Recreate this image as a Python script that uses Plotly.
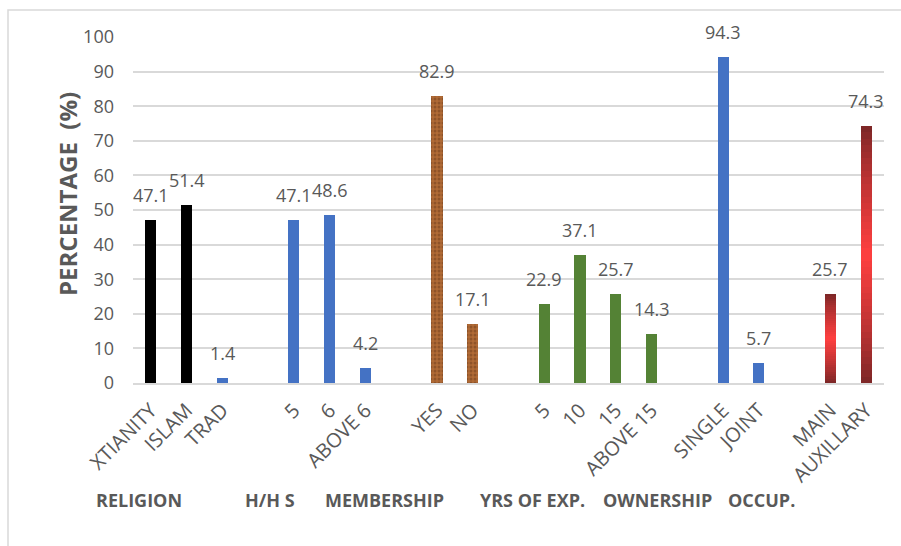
import plotly.graph_objects as go

# ---------------- data ----------------
groups = ["RELIGION", "H/H S", "MEMBERSHIP", "YRS OF EXP.", "OWNERSHIP", "OCCUP."]

religion_labels = ["XTIANITY", "ISLAM", "TRAD"]
religion_values = [47.1, 51.4, 1.4]

hhs_labels = ["5", "6", "ABOVE 6"]
hhs_values = [47.1, 48.6, 4.2]

membership_labels = ["YES", "NO"]
membership_values = [82.9, 17.1]

experience_labels = ["5", "10", "15", "ABOVE 15"]
experience_values = [22.9, 37.1, 25.7, 14.3]

ownership_labels = ["SINGLE", "JOINT"]
ownership_values = [94.3, 5.7]

occupation_labels = ["MAIN", "AUXILLARY"]
occupation_values = [25.7, 74.3]

y_ticks = [0, 10, 20, 30, 40, 50, 60, 70, 80, 90, 100]

# ---------------- styles ----------------
BLUE = "#4472C4"
GREEN = "#548235"
BLACK = "#000000"
TEXT = "#595959"
GRID = "#D9D9D9"
FONT = "Open Sans"
BAR_W = 0.31

group_data = [
    (religion_labels, religion_values, [BLACK, BLACK, BLUE], "solid"),
    (hhs_labels, hhs_values, [BLUE] * 3, "solid"),
    (membership_labels, membership_values, None, "texture"),
    (experience_labels, experience_values, [GREEN] * 4, "solid"),
    (ownership_labels, ownership_values, [BLUE] * 2, "solid"),
    (occupation_labels, occupation_values, None, "gradient"),
]

fig = go.Figure()

tick_vals, tick_text = [], []
pos = 0
all_x, all_y = [], []
for labels, values, colors, kind in group_data:
    xs = list(range(pos, pos + len(labels)))
    tick_vals += xs
    tick_text += labels
    all_x += xs
    all_y += values
    if kind == "solid":
        fig.add_trace(go.Bar(x=xs, y=values, width=BAR_W, marker=dict(color=colors, line_width=0)))
    elif kind == "texture":
        fig.add_trace(go.Bar(
            x=xs, y=values, width=BAR_W,
            marker=dict(color="#B06A35", line_width=0,
                        pattern=dict(shape=".", fgcolor="#6E3B1B", bgcolor="#B06A35",
                                     size=4, solidity=0.45)),
        ))
    else:
        n_seg = 40
        dark = (120, 38, 38)
        bright = (255, 64, 64)
        for k in range(n_seg):
            t = (k + 0.5) / n_seg
            w = (1 - abs(2 * t - 1)) ** 0.8
            c = tuple(int(dark[i] + (bright[i] - dark[i]) * w) for i in range(3))
            fig.add_trace(go.Bar(
                x=xs, y=[v / n_seg for v in values], width=BAR_W,
                marker=dict(color="rgb(%d,%d,%d)" % c, line_width=0),
            ))
    pos += len(labels) + 1

last_slot = max(tick_vals)

# data labels
for x, v in zip(all_x, all_y):
    fig.add_annotation(x=x, y=v, text=f"{v}", showarrow=False, yanchor="bottom",
                       yshift=11, font=dict(family=FONT, size=18, color=TEXT))

# group labels below the axis
group_x = [139, 270, 384, 532, 657, 761]
L, R, T, B = 133, 17, 37, 163
PW = 901 - L - R
PH = 546 - T - B
for g, px in zip(groups, group_x):
    fig.add_annotation(x=(px - L) / PW, y=(383 - 500) / PH, xref="paper", yref="paper",
                       text=f"<b>{g}</b>", showarrow=False, xanchor="center", yanchor="middle",
                       font=dict(family=FONT, size=18, color=TEXT))

# y-axis title
fig.add_annotation(x=(67 - L) / PW, y=(383 - 194) / PH, xref="paper", yref="paper",
                   text="<b>PERCENTAGE \u00a0(%)</b>", textangle=-90, showarrow=False,
                   xanchor="center", yanchor="middle",
                   font=dict(family=FONT, size=24, color=TEXT))

# outer frame
fig.add_shape(type="rect", xref="paper", yref="paper",
              x0=(8 - L) / PW, x1=1.1, y0=-0.7, y1=(383 - 10) / PH,
              line=dict(color="#D9D9D9", width=1.5), fillcolor="rgba(0,0,0,0)")

fig.update_layout(
    width=901, height=546,
    margin=dict(l=L, r=R, t=T, b=B),
    barmode="stack",
    showlegend=False,
    plot_bgcolor="white", paper_bgcolor="white",
    font=dict(family=FONT, color=TEXT),
)
fig.update_xaxes(
    range=[-0.5, last_slot + 0.5],
    tickmode="array", tickvals=tick_vals, ticktext=tick_text,
    tickangle=-45, tickfont=dict(family=FONT, size=20, color=TEXT),
    showgrid=False, showline=True, linecolor=GRID, linewidth=1.5,
    zeroline=False, ticks="", ticklabelstandoff=6,
)
fig.update_yaxes(
    range=[0, 100], tickmode="array", tickvals=y_ticks,
    tickfont=dict(family=FONT, size=18, color=TEXT),
    showgrid=True, gridcolor=GRID, gridwidth=1.5,
    zeroline=False, showline=False, ticks="", ticklabelstandoff=18,
)

fig.write_html("out.html")
